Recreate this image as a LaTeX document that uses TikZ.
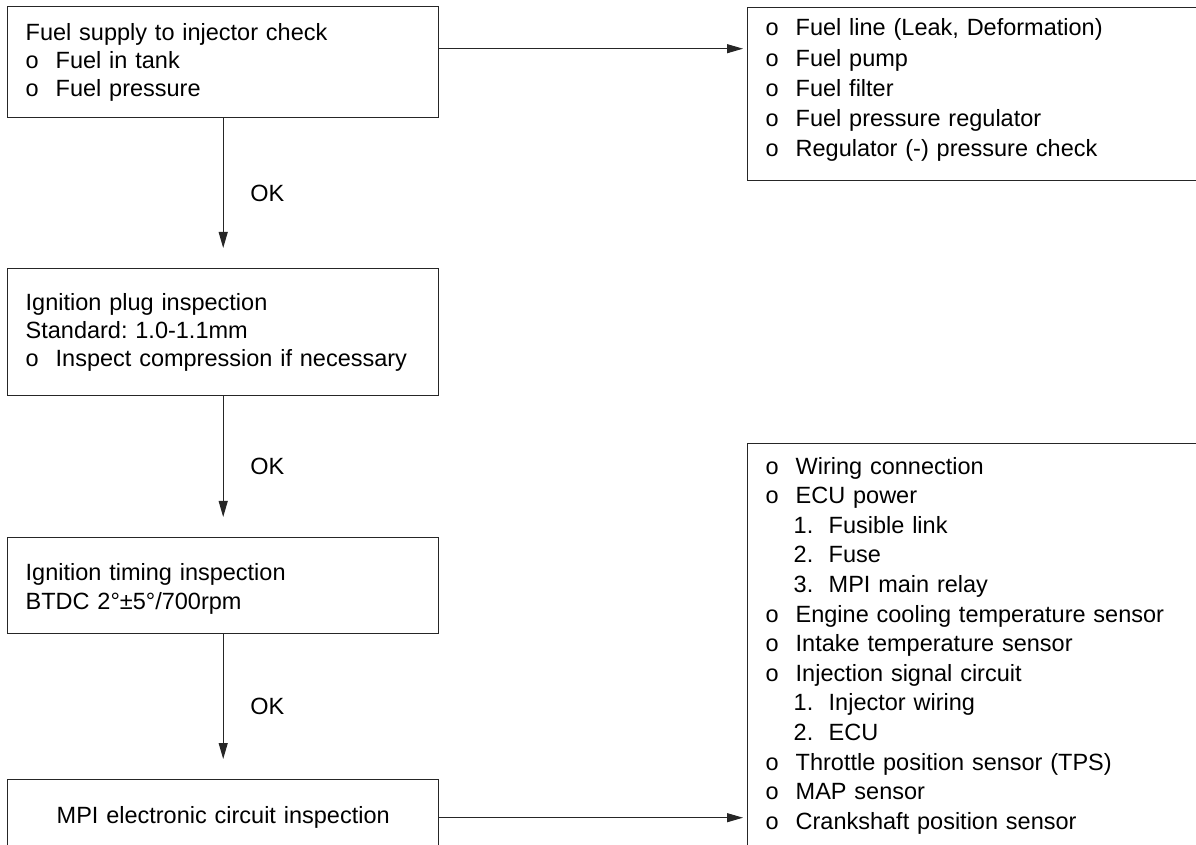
\documentclass[tikz,border=0pt]{standalone}
\usepackage{fontspec}
\setmainfont{Liberation Sans}
\usetikzlibrary{arrows.meta}

\newcommand{\bul}{\makebox[15pt][l]{o}}
\newcommand{\numitem}[1]{\hspace*{14pt}\makebox[17.5pt][l]{#1}}
\frenchspacing

\begin{document}
\begin{tikzpicture}[
  x=0.5pt, y=-0.5pt,
  stepbox/.style={draw=black!85, line width=0.7pt, anchor=north west, text width=197.5pt,
    inner xsep=9pt, inner ysep=0pt, align=left, font=\fontsize{11.75}{13.9}\selectfont},
  listbox/.style={draw=black!85, line width=0.7pt, anchor=north west, text width=213.5pt,
    inner xsep=9pt, inner ysep=0pt, align=left, font=\fontsize{11.75}{14.8}\selectfont},
  arr/.style={-{Triangle[length=8pt,width=4.5pt]}, line width=0.5pt, draw=black!85},
  oklabel/.style={font=\fontsize{11.75}{13}\selectfont, right=10pt, midway}
]
  \useasboundingbox (0,0) rectangle (1196,845);
  \clip (0,0) rectangle (1196,845);

  % checks (left column)
  \node[stepbox, minimum height=55.5pt] (fuel) at (7,6)
    {Fuel supply to injector check\\ \bul Fuel in tank\\ \bul Fuel pressure};
  \node[stepbox, minimum height=63.5pt] (plug) at (7,268)
    {Ignition plug inspection\\ Standard: 1.0-1.1mm\\ \bul Inspect compression if necessary};
  \node[stepbox, minimum height=48pt, font=\fontsize{11.75}{14.5}\selectfont] (timing) at (7,537)
    {\rule{0pt}{11.5pt}Ignition timing inspection\\ BTDC 2°±5°/700rpm};
  \node[stepbox, minimum height=38pt, align=center] (mpi) at (7,779)
    {MPI electronic circuit inspection};

  % items to check (right column)
  \node[listbox, minimum height=86.5pt, font=\fontsize{11.75}{15.1}\selectfont] (fuelfix) at (747,7)
    {\bul Fuel line (Leak, Deformation)\\ \bul Fuel pump\\ \bul Fuel filter\\
     \bul Fuel pressure regulator\\ \bul Regulator (-) pressure check\rule[-6.5pt]{0pt}{6.5pt}};
  \node[listbox, minimum height=202pt] (mpifix) at (747,443)
    {\bul Wiring connection\\ \bul ECU power\\
     \numitem{1.}Fusible link\\ \numitem{2.}Fuse\\ \numitem{3.}MPI main relay\\
     \bul Engine cooling temperature sensor\\ \bul Intake temperature sensor\\
     \bul Injection signal circuit\\ \numitem{1.}Injector wiring\\ \numitem{2.}ECU\\
     \bul Throttle position sensor (TPS)\\ \bul MAP sensor\\ \bul Crankshaft position sensor};

  % connectors
  \draw[arr, shorten >=10pt] (fuel) -- node[oklabel] {OK} (plug);
  \draw[arr, shorten >=10pt] (plug) -- node[oklabel] {OK} (timing);
  \draw[arr, shorten >=10pt] (timing) -- node[oklabel] {OK} (mpi);
  \draw[arr, shorten >=2pt] ([yshift=6.75pt]fuel.east) -- ([yshift=6.75pt]fuel.east -| fuelfix.west);
  \draw[arr, shorten >=2pt] (mpi.east) -- (mpi.east -| mpifix.west);
\end{tikzpicture}
\end{document}
